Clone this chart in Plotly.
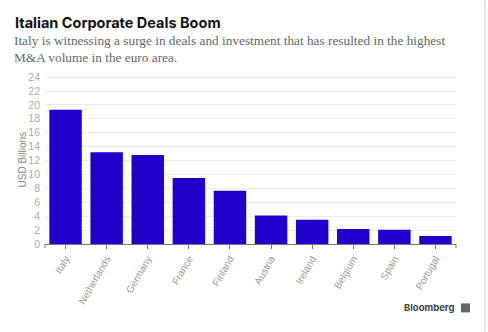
import plotly.graph_objects as go

countries = ["Italy", "Netherlands", "Germany", "France", "Finland",
             "Austria", "Ireland", "Belgium", "Spain", "Portugal"]
values = [19.3, 13.2, 12.8, 9.5, 7.65, 4.1, 3.5, 2.15, 2.05, 1.15]
y_ticks = list(range(0, 25, 2))

fig = go.Figure(go.Bar(
    x=countries, y=values,
    marker=dict(color="#2200cc", line=dict(width=0)),
    width=0.79,
))

grey = "#8a8a8a"
PH = 169.3
PW = 411
fig.update_layout(
    width=488, height=332,
    margin=dict(l=45, r=32, t=75, b=88),
    paper_bgcolor="white", plot_bgcolor="white",
    showlegend=False,
    font=dict(family="Liberation Sans, Arial, sans-serif", color=grey, size=10),
    xaxis=dict(
        showline=True, linecolor="#777", linewidth=1,
        ticks="outside", ticklen=4, tickcolor="#777",
        tickangle=-60, tickfont=dict(size=10, color="#999"),
        showgrid=False,
    ),
    yaxis=dict(
        range=[0, 24.3], tickvals=y_ticks,
        showgrid=True, gridcolor="#ebebeb", gridwidth=1,
        zeroline=False, showline=False,
        tickfont=dict(size=10.5, color="#aaa"),
        ticklabelstandoff=4,
    ),
    annotations=[
        dict(text="<b>Italian Corporate Deals Boom</b>", xref="paper", yref="paper",
             x=(13 - 45) / PW, y=(244 - 22) / PH, yanchor="middle", xanchor="left",
             showarrow=False,
             font=dict(family="Inter, Roboto, sans-serif", size=14.5, color="#111")),
        dict(text="Italy is witnessing a surge in deals and investment that has resulted in the highest<br>M&A volume in the euro area.",
             xref="paper", yref="paper", align="left",
             x=(12 - 45) / PW, y=(244 - 31) / PH, yanchor="top", xanchor="left",
             showarrow=False,
             font=dict(family="Liberation Serif, DejaVu Serif, serif", size=13.3, color="#666")),
        dict(text="USD Billions", xref="paper", yref="paper", textangle=-90,
             x=(22 - 45) / PW, y=0.5, xanchor="center", yanchor="middle",
             showarrow=False, font=dict(size=10, color=grey)),
        dict(text="<b>Bloomberg</b>", xref="paper", yref="paper",
             x=(456 - 45) / PW, y=-(308 - 244) / PH, xanchor="right", yanchor="middle",
             showarrow=False,
             font=dict(family="Inter, Roboto, sans-serif", size=9.5, color="#444")),
    ],
    shapes=[
        dict(type="line", xref="paper", yref="paper", x0=0, x1=0,
             y0=0, y1=-4 / PH, line=dict(color="#777", width=1)),
        dict(type="line", xref="paper", yref="paper", x0=1, x1=1,
             y0=0, y1=-4 / PH, line=dict(color="#777", width=1)),
        dict(type="rect", xref="paper", yref="paper",
             x0=(461 - 45) / PW, x1=(470 - 45) / PW,
             y0=-(303.5 - 244) / PH, y1=-(312.5 - 244) / PH,
             fillcolor="#666", line=dict(width=0)),
        dict(type="line", xref="paper", yref="paper",
             x0=(485 - 45) / PW, x1=(485 - 45) / PW,
             y0=-88 / PH, y1=1 + 75 / PH, line=dict(color="#ccc", width=1)),
    ],
)

fig.write_html("out.html")
